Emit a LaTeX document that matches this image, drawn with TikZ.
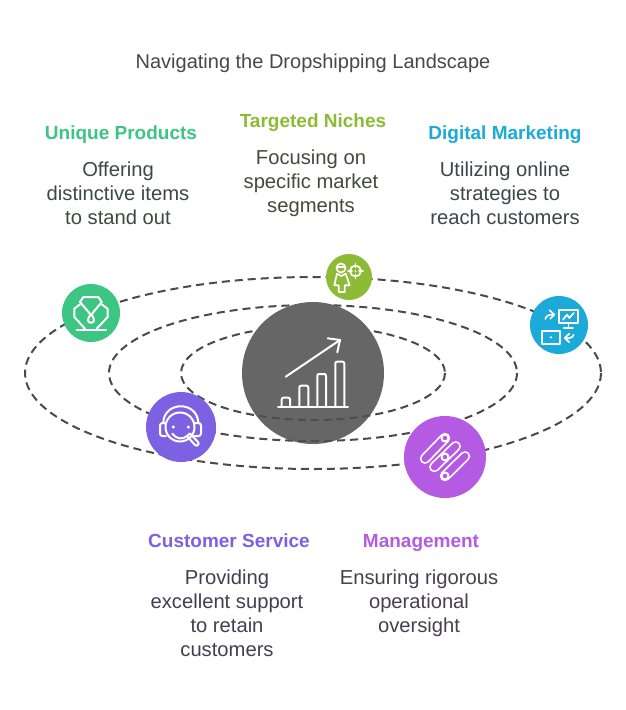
\documentclass[tikz,border=0pt]{standalone}
\usepackage{fontspec}
\setmainfont{Liberation Sans}
\definecolor{cgreen}{HTML}{3CC583}
\definecolor{clime}{HTML}{8DBB36}
\definecolor{cblue}{HTML}{1CAAD9}
\definecolor{cviolet}{HTML}{7C62E3}
\definecolor{cpurple}{HTML}{B55BE3}
\definecolor{cdark}{HTML}{666666}
\definecolor{cdash}{HTML}{4A4A4A}
\definecolor{ctitle}{HTML}{484848}
\definecolor{tgreen}{HTML}{3B4A42}
\definecolor{tlime}{HTML}{454A3B}
\definecolor{tblue}{HTML}{3B474A}
\definecolor{tviolet}{HTML}{423F50}
\definecolor{tpurple}{HTML}{4A3F50}
\newcommand{\fl}{\rule{0pt}{15pt}}
\tikzset{
  orbit/.style={draw=cdash,line width=2pt,dash pattern=on 8pt off 5pt},
  disc/.style={circle,inner sep=0pt,minimum size=#1},
  ico/.style={draw=white,line width=2pt,line cap=round,line join=round,fill=none},
  icothin/.style={draw=white,line width=1.7pt,line cap=round,line join=round,fill=none},
  ttl/.style={font=\fontsize{19}{23}\selectfont\bfseries,anchor=base,inner sep=0pt},
  body/.style={font=\fontsize{20.2}{24}\selectfont,align=center,anchor=north,inner sep=0pt},
}
\begin{document}
\begin{tikzpicture}[x=1pt,y=-1pt]
\useasboundingbox (0,0) rectangle (626,710);
\fill[white] (0,0) rectangle (626,710);
% orbits
\draw[orbit] (313,373) ellipse [x radius=288,y radius=96];
\draw[orbit] (313,373) ellipse [x radius=204,y radius=68];
\draw[orbit] (313,373) ellipse [x radius=132,y radius=47];
% centre
\node[disc=142pt,fill=cdark] (centre) at (313,373) {};
\begin{scope}
\clip (313,373) circle (71);
\draw[orbit,draw=cdash!85!cdark] (445,373) arc [start angle=0,end angle=180,x radius=132,y radius=47];
\draw[orbit,draw=cdash!85!cdark] (517,373) arc [start angle=0,end angle=180,x radius=204,y radius=68];
\end{scope}
\draw[ico] (281.7,407) -- (281.7,399.5) .. controls (281.7,398) and (282.5,397.7) .. (283.5,397.7) -- (288.2,397.7) .. controls (289.2,397.7) and (290,398) .. (290,399.5) -- (290,407);
\draw[ico] (299.3,407) -- (299.3,387.5) .. controls (299.3,386) and (300.1,385.7) .. (301.1,385.7) -- (306.5,385.7) .. controls (307.5,385.7) and (308.3,386) .. (308.3,387.5) -- (308.3,407);
\draw[ico] (317.3,407) -- (317.3,375.8) .. controls (317.3,374.3) and (318.1,374) .. (319.1,374) -- (324.2,374) .. controls (325.2,374) and (326,374.3) .. (326,375.8) -- (326,407);
\draw[ico] (335.3,407) -- (335.3,363.5) .. controls (335.3,362) and (336.1,361.7) .. (337.1,361.7) -- (342.5,361.7) .. controls (343.5,361.7) and (344.3,362) .. (344.3,363.5) -- (344.3,407);
\draw[ico] (278,407) -- (348,407);
\draw[ico] (285.7,376.7) -- (340,340);
\draw[ico] (327.7,338.3) -- (340,340) -- (337.3,352.3);
% unique products
\node[disc=58pt,fill=cgreen] (uniq) at (91,313) {};
\begin{scope}[shift={(91,313)}]
\draw[ico] (-11,-11) -- (-7.7,-16) -- (7.3,-16) -- (10.7,-11);
\draw[ico] (-11,-11) -- (0,2) -- (10.7,-11);
\draw[ico] (-11,-8.7) -- (-16.7,-4.3) -- (-16.7,4) -- (-6,15.7);
\draw[ico] (10.7,-8.7) -- (16.7,-4.3) -- (16.7,4) -- (5.7,15.7);
\draw[ico] (0,1.3) .. controls (-4.5,6.5) and (-3.5,9.7) .. (0,9.7) .. controls (3.5,9.7) and (4.5,6.5) .. (0,1.3);
\draw[ico] (-14.3,16.7) -- (15,16.7);
\end{scope}
% targeted niches
\node[disc=46pt,fill=clime] (niche) at (349,277) {};
\begin{scope}[shift={(349,277)}]
\draw[icothin] (-8,-9) circle (4.5);
\draw[icothin] (-12,-10) -- (-4,-10);
\draw[icothin] (-12,-3.3) -- (-7.7,-1) -- (-3.3,-3.3) -- (0.7,8.3) -- (-4.3,8.3) -- (-4.3,15) -- (-10.3,15) -- (-10.3,8.3) -- (-14.7,8.3) -- cycle;
\draw[icothin] (6.5,-6) circle (5.5);
\draw[icothin] (6.5,-13.5) -- (6.5,-9.5) (6.5,-2.5) -- (6.5,1.5) (-1,-6) -- (3,-6) (10,-6) -- (14,-6);
\fill[white] (6.5,-6) circle (1);
\end{scope}
% digital marketing
\node[disc=58pt,fill=cblue] (digi) at (559,325) {};
\begin{scope}[shift={(559,325)}]
\draw[icothin] (0.3,-15.3) rectangle (18.7,-2);
\draw[icothin] (4,-5.3) -- (8,-10.3) -- (10.3,-7) -- (14.7,-12);
\draw[icothin] (9.5,-2) -- (9.5,3) (4.7,3) -- (14,3);
\draw[icothin] (-13.7,-6) .. controls (-13,-9) and (-10,-11) .. (-5.3,-10.3);
\draw[icothin] (-9.3,-14.7) -- (-4.7,-10.3) -- (-8.7,-6.3);
\draw[icothin] (-17,6.3) rectangle (0.7,18.7);
\fill[white] (-8,12.3) circle (1.3);
\draw[icothin] (14.7,9.7) .. controls (14,12) and (11,14) .. (6.3,13);
\draw[icothin] (10.3,8.7) -- (5.7,13) -- (10.3,17.3);
\end{scope}
% customer service
\node[disc=70pt,fill=cviolet] (serv) at (181,427) {};
\begin{scope}[shift={(181,427)}]
\draw[ico] (-17.7,-5) .. controls (-16,-26) and (15.5,-26) .. (17.3,-5);
\draw[ico] (-1,0) circle (14.5);
\draw[ico,rounded corners=2.5pt] (-15,-4) -- (-21,-4) -- (-21,9) -- (-15,9);
\draw[ico,rounded corners=2.5pt] (13.5,-4) -- (20,-4) -- (20,9) -- (12.5,9);
\fill[white] (-7.7,0) circle (1.7) (7.3,0) circle (1.7);
\draw[ico] (-8.7,6.7) .. controls (-5,12) and (2,13) .. (6,9);
\draw[ico] (6,9) -- (9,6.5) -- (17,15);
\draw[ico] (6,9) -- (14,18);
\draw[ico] (14,18) .. controls (16,20) and (19,17) .. (17,15);
\end{scope}
% management
\node[disc=82pt,fill=cpurple] (mgmt) at (445,457) {};
\begin{scope}[shift={(445,457)}]
\foreach \a/\b/\c/\d in {-20/1.7/0/-19,-10.7/10/10.7/-10.7,0/19/20/-0.7}{
  \draw[white,line width=10.5pt,line cap=round] (\a,\b) -- (\c,\d);
  \draw[cpurple,line width=7pt,line cap=round] (\a,\b) -- (\c,\d);
}
\draw[ico,fill=cpurple] (0,-19) circle (3.5);
\draw[ico,fill=cpurple] (0,0) circle (3.5);
\draw[ico,fill=cpurple] (0,19) circle (3.5);
\end{scope}
% texts
\node[font=\fontsize{20}{24}\selectfont,text=ctitle,inner sep=0pt,anchor=base] (title) at (313,68) {Navigating the Dropshipping Landscape};
\node[ttl,text=cgreen] (t1) at (121,139) {Unique Products};
\node[body,text=tgreen] (b1) at (118,161) {\fl Offering\\distinctive items\\to stand out};
\node[ttl,text=clime] (t2) at (313,127) {Targeted Niches};
\node[body,text=tlime] (b2) at (311,149) {\fl Focusing on\\specific market\\segments};
\node[ttl,text=cblue] (t3) at (505,139) {Digital Marketing};
\node[body,text=tblue] (b3) at (505,161) {\fl Utilizing online\\strategies to\\reach customers};
\node[ttl,text=cviolet] (t4) at (229,547) {Customer Service};
\node[body,text=tviolet] (b4) at (227,569) {\fl Providing\\excellent support\\to retain\\customers};
\node[ttl,text=cpurple] (t5) at (421,547) {Management};
\node[body,text=tpurple] (b5) at (419,569) {\fl Ensuring rigorous\\operational\\oversight};
\end{tikzpicture}
\end{document}
